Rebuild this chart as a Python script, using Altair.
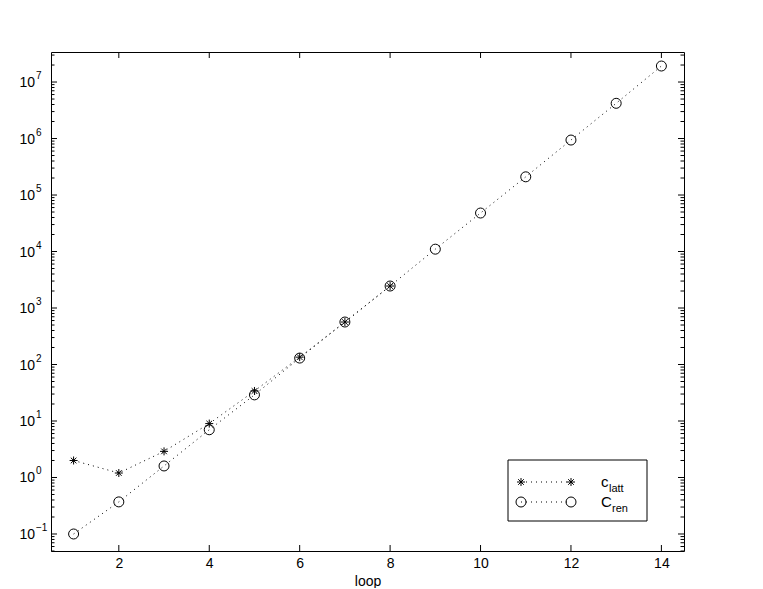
import altair as alt
import pandas as pd

# ---- data ----
loops_latt = [1, 2, 3, 4, 5, 6, 7, 8]
c_latt = [2.0, 1.2, 2.9, 9.0, 34, 135, 565, 2450]
loops_ren = [1, 2, 3, 4, 5, 6, 7, 8, 9, 10, 11, 12, 13, 14]
c_ren = [0.1, 0.37, 1.6, 7.0, 29, 130, 565, 2450, 11000, 48000, 210000, 940000, 4.2e6, 1.92e7]

x_ticks = [2, 4, 6, 8, 10, 12, 14]
y_exponents = [-1, 0, 1, 2, 3, 4, 5, 6, 7]

W, H = 633, 499
FONT = "Liberation Sans"
ASTERISK = "M-1,0L1,0M0,-1L0,1M-0.7,-0.7L0.7,0.7M-0.7,0.7L0.7,-0.7"

y_lo, y_hi = 0.05, 3.4e7
xscale = alt.Scale(domain=[0.5, 14.5], nice=False, zero=False)
yscale = alt.Scale(type="log", domain=[y_lo, y_hi], nice=False)
x_axis = alt.Axis(values=x_ticks, ticks=False, domain=False, grid=False,
                  labelFontSize=14, labelPadding=5, title="loop",
                  titleFontSize=14, titlePadding=4, titleFontWeight="normal")

latt = pd.DataFrame({"loop": loops_latt, "val": c_latt, "series": "latt"})
ren = pd.DataFrame({"loop": loops_ren, "val": c_ren, "series": "ren"})

X = alt.X("loop:Q", scale=xscale, axis=x_axis)
Y = alt.Y("val:Q", scale=yscale, axis=None)

line_latt = alt.Chart(latt).mark_line(color="black", strokeDash=[1, 4], strokeWidth=1).encode(x=X, y=Y)
line_ren = alt.Chart(ren).mark_line(color="black", strokeDash=[1, 4], strokeWidth=1).encode(x=X, y=Y)
pts_ren = alt.Chart(ren).mark_point(shape="circle", filled=False, color="black",
                                    size=100, strokeWidth=1, opacity=1).encode(x=X, y=Y)
pts_latt = alt.Chart(latt).mark_point(shape=ASTERISK, filled=False, color="black",
                                      size=64, strokeWidth=1, opacity=1).encode(x=X, y=Y)

# ---- inward ticks ----
xt = pd.DataFrame({"loop": x_ticks})
xt_bot = alt.Chart(xt).mark_rule(color="black").encode(x=X, y=alt.value(H), y2=alt.value(H - 6))
xt_top = alt.Chart(xt).mark_rule(color="black").encode(x=X, y=alt.value(0), y2=alt.value(6))

major = pd.DataFrame({"val": [10.0 ** e for e in y_exponents],
                      "base": ["10"] * len(y_exponents),
                      "exp": [str(e).replace("-", "\u2212") for e in y_exponents]})
minor_vals = [k * 10.0 ** e for e in range(-2, 8) for k in range(2, 10)]
minor = pd.DataFrame({"val": [v for v in minor_vals if y_lo <= v <= y_hi]})

yt_major_l = alt.Chart(major).mark_rule(color="black").encode(y=Y, x=alt.value(0), x2=alt.value(6))
yt_major_r = alt.Chart(major).mark_rule(color="black").encode(y=Y, x=alt.value(W - 6), x2=alt.value(W))
yt_minor_l = alt.Chart(minor).mark_rule(color="black").encode(y=Y, x=alt.value(0), x2=alt.value(3.5))
yt_minor_r = alt.Chart(minor).mark_rule(color="black").encode(y=Y, x=alt.value(W - 3.5), x2=alt.value(W))

ylab_base = alt.Chart(major).mark_text(align="right", baseline="middle", fontSize=14,
                                       font=FONT, color="black", dy=1).encode(
    y=Y, x=alt.value(-16), text="base:N")
ylab_exp = alt.Chart(major).mark_text(align="left", baseline="middle", fontSize=10,
                                      font=FONT, color="black", dy=-6).encode(
    y=Y, x=alt.value(-15), text="exp:N")

# ---- legend (drawn ornament) ----
one = pd.DataFrame({"a": [0]})
box = alt.Chart(one).mark_rect(fill="white", stroke="black", strokeWidth=1).encode(
    x=alt.value(457), x2=alt.value(596), y=alt.value(408), y2=alt.value(469))
leg_l1 = alt.Chart(one).mark_rule(color="black", strokeDash=[1, 4]).encode(
    x=alt.value(470), x2=alt.value(520), y=alt.value(430))
leg_l2 = alt.Chart(one).mark_rule(color="black", strokeDash=[1, 4]).encode(
    x=alt.value(470), x2=alt.value(520), y=alt.value(450))

def sym(shape, size, x, y):
    return alt.Chart(one).mark_point(shape=shape, filled=False, color="black", size=size,
                                     strokeWidth=1, opacity=1).encode(x=alt.value(x), y=alt.value(y))

leg_syms = [sym(ASTERISK, 64, 470, 430), sym(ASTERISK, 64, 520, 430),
            sym("circle", 100, 470, 450), sym("circle", 100, 520, 450)]

def txt(s, x, y, size):
    return alt.Chart(pd.DataFrame({"t": [s]})).mark_text(
        align="left", baseline="middle", fontSize=size, font=FONT, color="black").encode(
        x=alt.value(x), y=alt.value(y), text="t:N")

leg_txt = [txt("c", 550, 430, 15), txt("latt", 558, 437, 11),
           txt("C", 550, 450, 15), txt("ren", 561, 457, 11)]

chart = alt.layer(
    line_latt, line_ren, pts_ren, pts_latt,
    xt_bot, xt_top, yt_major_l, yt_major_r, yt_minor_l, yt_minor_r,
    ylab_base, ylab_exp,
    box, leg_l1, leg_l2, *leg_syms, *leg_txt
).properties(
    width=W, height=H,
    autosize=alt.AutoSizeParams(type="none"),
    padding={"left": 43, "top": 44, "right": 60, "bottom": 37},
).configure_view(stroke="black", strokeWidth=1).configure_axis(
    labelFont=FONT, titleFont=FONT, labelColor="black", titleColor="black"
)

chart.save("out.html", embed_options={"renderer": "svg", "actions": False})
